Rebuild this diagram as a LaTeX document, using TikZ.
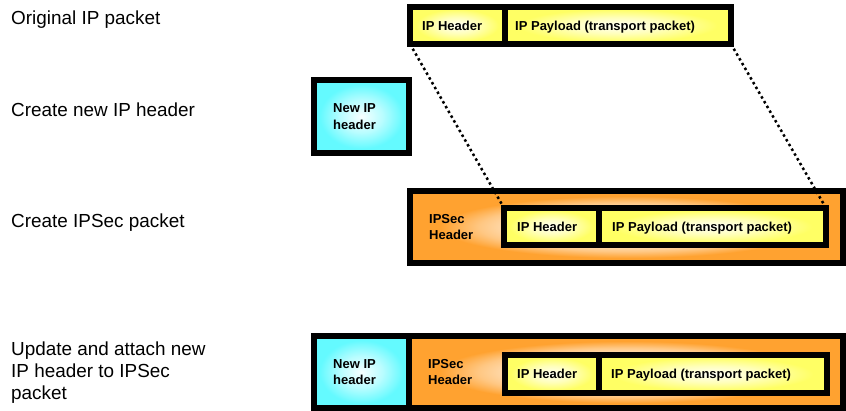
\documentclass[tikz,border=0pt]{standalone}
\usepackage{fontspec}
\setmainfont{Liberation Sans}

\definecolor{ylw}{RGB}{255,255,100}
\definecolor{cyn}{RGB}{100,250,255}
\definecolor{org}{RGB}{255,162,48}

% soft glow in the middle of each field (field edge sits at 25bp)
\pgfdeclareradialshading{yglow}{\pgfpointorigin}{color(0bp)=(ylw!5!white); color(11bp)=(ylw!45!white); color(22bp)=(ylw); color(50bp)=(ylw)}
\pgfdeclareradialshading{cglow}{\pgfpointorigin}{color(0bp)=(cyn!5!white); color(11bp)=(cyn!45!white); color(22bp)=(cyn); color(50bp)=(cyn)}
\pgfdeclareradialshading{oglow}{\pgfpointorigin}{color(0bp)=(org!15!white); color(13bp)=(org!35!white); color(17bp)=(org!60!white); color(21.5bp)=(org); color(50bp)=(org)}

\tikzset{
  field/.style={draw=black, line width=6pt, inner sep=0pt, outer sep=0pt, anchor=north west},
  ipfield/.style={field, shading=yglow},
  newfield/.style={field, shading=cglow},
  secfield/.style={field, shading=oglow},
  steplabel/.style={anchor=base west, inner sep=0pt, align=left, font=\fontsize{18.9}{22}\selectfont},
  fieldtext/.style={anchor=west, inner sep=0pt, align=left, font=\bfseries\fontsize{13}{16.5}\selectfont},
  oneline/.style={fieldtext, text height=9.3pt, text depth=0pt},
  dotline/.style={line width=2.5pt, dash pattern=on 2.5pt off 3pt}
}

\begin{document}
\begin{tikzpicture}[x=1pt, y=-1pt]
\useasboundingbox (0,0) rectangle (846,411);

% step captions
\node[steplabel] (s1) at (11,25) {Original IP packet};
\node[steplabel] (s2) at (11,117) {Create new IP header};
\node[steplabel] (s3) at (11,228) {Create IPSec packet};
\node[steplabel, anchor=north west] (s4) at (11,342) {Update and attach new\\IP header to IPSec\\packet};

% original IP packet
\node[ipfield, minimum width=94.5pt, minimum height=37pt] (hA) at (410,7) {};
\node[ipfield, minimum width=226.5pt, minimum height=37pt] (pA) at (504.5,7) {};
\node[oneline] at ([xshift=12pt]hA.west) {IP Header};
\node[oneline] at ([xshift=10.5pt]pA.west) {IP Payload (transport packet)};

% new IP header
\node[newfield, minimum width=95pt, minimum height=73pt] (nB) at (314,80) {};
\node[fieldtext] at ([xshift=19pt]nB.west) {New IP\\header};

% IPSec packet
\node[secfield, minimum width=433pt, minimum height=72pt] (sC) at (410,191) {};
\node[ipfield, minimum width=95pt, minimum height=37pt] (hC) at (504,208) {};
\node[ipfield, minimum width=227pt, minimum height=37pt] (pC) at (599,208) {};
\node[fieldtext] at ([xshift=19pt]sC.west) {IPSec\\Header};
\node[oneline] at ([xshift=13pt]hC.west) {IP Header};
\node[oneline] at ([xshift=13pt]pC.west) {IP Payload (transport packet)};

% original packet copied into the IPSec packet
\draw[dotline] (hA.south west) -- (hC.north west);
\draw[dotline] (pA.south east) -- (pC.north east);

% final packet with the new IP header attached
\node[newfield, minimum width=95pt, minimum height=72pt] (nD) at (314,336) {};
\node[secfield, minimum width=434pt, minimum height=72pt] (sD) at (409,336) {};
\node[ipfield, minimum width=94pt, minimum height=38pt] (hD) at (505,355) {};
\node[ipfield, minimum width=228pt, minimum height=38pt] (pD) at (599,355) {};
\node[fieldtext] at ([xshift=19pt]nD.west) {New IP\\header};
\node[fieldtext] at ([xshift=19pt]sD.west) {IPSec\\Header};
\node[oneline] at ([xshift=12pt]hD.west) {IP Header};
\node[oneline] at ([xshift=12pt]pD.west) {IP Payload (transport packet)};
\end{tikzpicture}
\end{document}
